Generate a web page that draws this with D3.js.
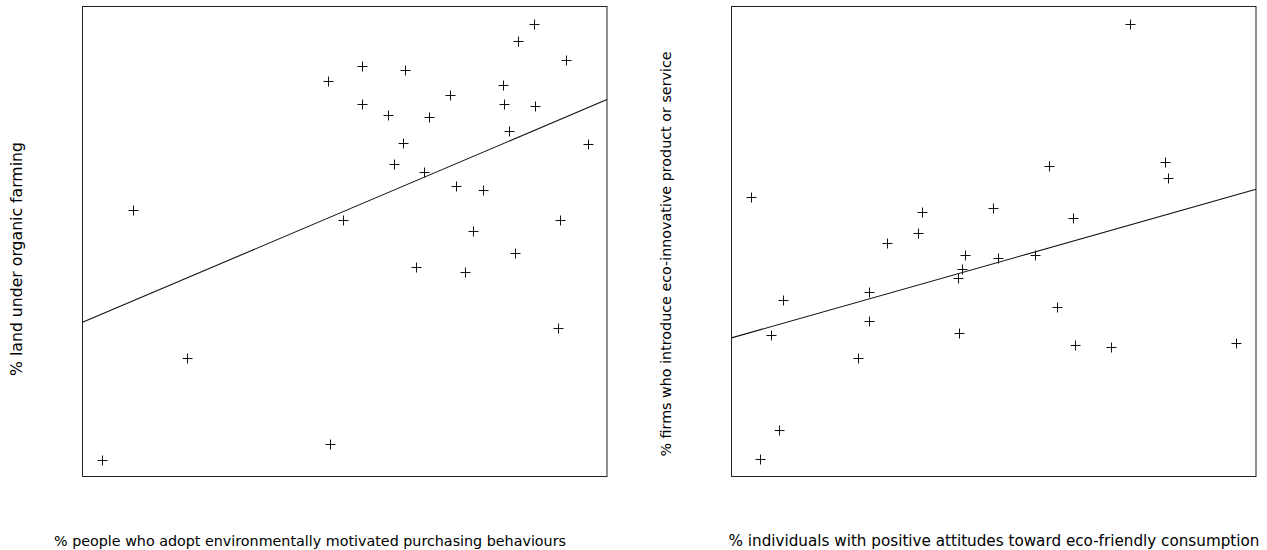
<!DOCTYPE html>
<html>
<head>
<meta charset="utf-8">
<script src="https://cdn.jsdelivr.net/npm/d3@7"></script>
<style>
  body { margin: 0; background: #fff; }
  text { font-family: "DejaVu Sans", sans-serif; fill: #000; }
</style>
</head>
<body>
<div id="chart"></div>
<script>
// --------------------------------------
//  Data (0-100 scale)
// --------------------------------------

const purchasing = [9.7, 46.9, 49.7, 53.2, 61.4, 53.2, 58.2, 66.1, 70.0, 80.2, 80.3, 86.3, 83.1, 86.1, 92.1, 61.1,
  81.4, 96.3, 59.3, 65.1, 71.2, 76.4, 74.5, 91.1, 63.5, 73.0, 82.4, 90.6, 19.9, 3.7, 47.1];
const organicLand = [56.8, 84.1, 54.5, 87.4, 86.5, 79.2, 76.9, 76.4, 81.2, 83.4, 79.2, 78.8, 92.6, 96.2, 88.6, 71.0,
  73.5, 70.7, 66.4, 64.8, 61.8, 60.9, 52.3, 54.5, 44.5, 43.5, 47.5, 31.6, 25.2, 3.6, 7.0];
const organicFit = [32.8, 80.2];   // fitted value at x = 0 and x = 100

const attitudes = [3.8, 36.3, 35.6, 29.7, 49.8, 75.9, 60.6, 65.1, 82.7, 83.2, 44.6, 50.9, 44.0, 43.2, 9.9,
  26.3, 7.5, 26.3, 43.3, 24.2, 9.0, 5.5, 57.8, 62.0, 65.5, 72.4, 96.2];
const ecoFirms = [59.5, 56.2, 51.8, 49.7, 57.2, 96.2, 66.0, 55.0, 66.9, 63.5, 47.1, 46.4, 44.1, 42.3, 37.6,
  39.3, 30.2, 33.0, 30.6, 25.2, 10.0, 3.7, 47.2, 36.0, 27.9, 27.5, 28.5];
const ecoFit = [29.5, 61.1];

const panels = [
  {x: purchasing, y: organicLand, fit: organicFit, left: 82.5,
   xLabel: "% people who adopt environmentally motivated purchasing behaviours",
   xLabelX: 310, xLabelSize: 14.3,
   yLabel: "% land under organic farming", yLabelX: 22, yLabelY: 259, yLabelSize: 15.7},
  {x: attitudes, y: ecoFirms, fit: ecoFit, left: 731.5,
   xLabel: "% individuals with positive attitudes toward eco-friendly consumption",
   xLabelX: 994, xLabelSize: 15.2,
   yLabel: "% firms who introduce eco-innovative product or service", yLabelX: 671, yLabelY: 254, yLabelSize: 14.3}
];

// --------------------------------------
//  Canvas
// --------------------------------------

const width = 1267;
const height = 550;
const boxW = 524.5;
const boxTop = 6.5;
const boxBottom = 476.5;

const svg = d3.select("#chart")
  .append("svg")
    .attr("width", width)
    .attr("height", height);

panels.forEach(p => {

  const x = d3.scaleLinear().domain([0, 100]).range([p.left, p.left + boxW]);
  const y = d3.scaleLinear().domain([0, 100]).range([boxBottom, boxTop]);

  const g = svg.append("g");

  // frame
  g.append("rect")
    .attr("x", x(0))
    .attr("y", y(100))
    .attr("width", x(100) - x(0))
    .attr("height", y(0) - y(100))
    .attr("fill", "none")
    .attr("stroke", "#222")
    .attr("stroke-width", 1);

  // fitted line
  g.append("line")
    .attr("x1", x(0))
    .attr("y1", y(p.fit[0]))
    .attr("x2", x(100))
    .attr("y2", y(p.fit[1]))
    .attr("stroke", "#111")
    .attr("stroke-width", 1.1);

  // points as plus signs
  g.selectAll("path.pt")
    .data(p.x.map((v, i) => [v, p.y[i]]))
    .join("path")
      .attr("class", "pt")
      .attr("transform", d => `translate(${Math.round(x(d[0])) + 0.5}, ${Math.round(y(d[1])) + 0.5})`)
      .attr("d", "M-5,0H5M0,-5V5")
      .attr("stroke", "#111")
      .attr("stroke-width", 1)
      .attr("fill", "none");

  // labels
  g.append("text")
    .attr("x", p.xLabelX)
    .attr("y", 546)
    .attr("text-anchor", "middle")
    .style("font-size", p.xLabelSize + "px")
    .text(p.xLabel);

  g.append("text")
    .attr("transform", `translate(${p.yLabelX}, ${p.yLabelY}) rotate(-90)`)
    .attr("text-anchor", "middle")
    .style("font-size", p.yLabelSize + "px")
    .text(p.yLabel);
});
</script>
</body>
</html>
